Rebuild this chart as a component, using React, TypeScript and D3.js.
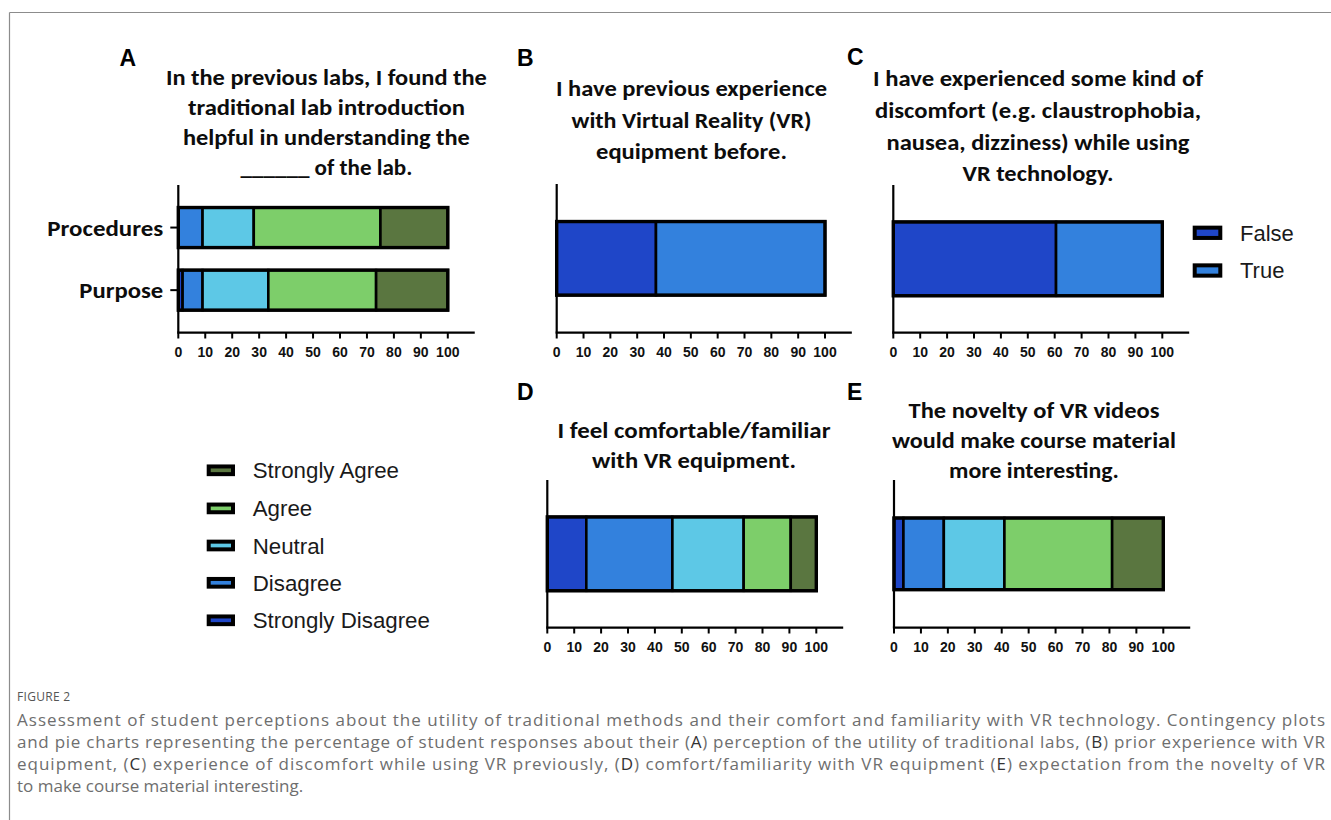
import React from "react";
import * as d3 from "d3";

// ---------- data ----------
const likertLevels = ["Strongly Disagree", "Disagree", "Neutral", "Agree", "Strongly Agree"];
const likertColors = ["#1f46c8", "#3381dd", "#5dc8e6", "#7dce6a", "#5a7640"];
const boolLevels = ["False", "True"];
const boolColors = ["#1f46c8", "#3381dd"];

const panelACategories = ["Procedures", "Purpose"];
const panelAProcedures = [0, 9, 19, 47, 25];
const panelAPurpose = [1.6, 7.4, 24.4, 40, 26.6];
const panelBValues = [37, 63];
const panelCValues = [60.5, 39.5];
const panelDValues = [14.5, 32, 26.5, 17.5, 9.5];
const panelEValues = [3.5, 15, 22.5, 40, 19];

const xTickValues = [0, 10, 20, 30, 40, 50, 60, 70, 80, 90, 100];

const titleA = ["In the previous labs, I found the", "traditional lab introduction", "helpful in understanding the", "______ of the lab."];
const titleB = ["I have previous experience", "with Virtual Reality (VR)", "equipment before."];
const titleC = ["I have experienced some kind of", "discomfort (e.g. claustrophobia,", "nausea, dizziness) while using", "VR technology."];
const titleD = ["I feel comfortable/familiar", "with VR equipment."];
const titleE = ["The novelty of VR videos", "would make course material", "more interesting."];

const captionHead = "FIGURE 2";
const captionLines = [
  "Assessment of student perceptions about the utility of traditional methods and their comfort and familiarity with VR technology. Contingency plots",
  "and pie charts representing the percentage of student responses about their (A) perception of the utility of traditional labs, (B) prior experience with VR",
  "equipment, (C) experience of discomfort while using VR previously, (D) comfort/familiarity with VR equipment (E) expectation from the novelty of VR",
  "to make course material interesting.",
];

// ---------- layout ----------
const W = 1331;
const H = 820;
const TITLE_FONT = "Carlito, Lato, 'Open Sans', sans-serif";
const AXIS_FONT = "'Liberation Sans', Arial, sans-serif";

type Layout = { x0: number; x100: number; yTop: number; yBottom: number; pIn: number; pOut: number };
const layoutA: Layout = { x0: 178.3, x100: 447.8, yTop: 185, yBottom: 332.7, pIn: 0.36, pOut: 0.36 };
const layoutB: Layout = { x0: 556.7, x100: 825, yTop: 184, yBottom: 332.7, pIn: 0, pOut: 0.51 };
const layoutC: Layout = { x0: 893.3, x100: 1162.3, yTop: 185, yBottom: 332.7, pIn: 0, pOut: 0.5 };
const layoutD: Layout = { x0: 547.3, x100: 816.3, yTop: 480, yBottom: 627.7, pIn: 0, pOut: 0.5 };
const layoutE: Layout = { x0: 894, x100: 1163.3, yTop: 480, yBottom: 627.7, pIn: 0, pOut: 0.53 };

type TitleLayout = { cx: number; baselines: number[]; widths: number[] };
const tlA: TitleLayout = { cx: 326.4, baselines: [85, 115, 145, 175], widths: [321, 277, 287, 172] };
const tlB: TitleLayout = { cx: 691.5, baselines: [96, 127.5, 159], widths: [271, 240, 191] };
const tlC: TitleLayout = { cx: 1038, baselines: [85.5, 117.5, 149.5, 181], widths: [330, 326, 303, 151] };
const tlD: TitleLayout = { cx: 694, baselines: [438, 468], widths: [273, 204] };
const tlE: TitleLayout = { cx: 1034, baselines: [417.5, 447.5, 478], widths: [251, 284, 170] };

function Title({ lines, tl }: { lines: string[]; tl: TitleLayout }) {
  return (
    <g>
      {lines.map((s, i) => (
        <text
          key={i}
          x={tl.cx}
          y={tl.baselines[i]}
          textAnchor="middle"
          fontFamily={TITLE_FONT}
          fontWeight={700}
          fontSize={22}
          fill="#0d0d0d"
          textLength={tl.widths[i]}
          lengthAdjust="spacingAndGlyphs"
        >
          {s}
        </text>
      ))}
    </g>
  );
}

function PanelLetter({ x, y, s }: { x: number; y: number; s: string }) {
  return (
    <text x={x} y={y} fontFamily={AXIS_FONT} fontWeight={700} fontSize={23} fill="#000">
      {s}
    </text>
  );
}

const categoryLabelWidths: Record<string, number> = { Procedures: 116, Purpose: 84 };

function StackedPanel({
  layout,
  categories,
  rows,
  colors,
  showCategoryLabels,
}: {
  layout: Layout;
  categories: string[];
  rows: number[][];
  colors: string[];
  showCategoryLabels: boolean;
}) {
  const k = (layout.x100 - layout.x0) / 100;
  const x = d3.scaleLinear().domain([0, 110]).range([layout.x0, layout.x0 + 110 * k]);
  const y = d3
    .scaleBand<string>()
    .domain(categories)
    .range([layout.yTop, layout.yBottom])
    .paddingInner(layout.pIn)
    .paddingOuter(layout.pOut);
  const bw = y.bandwidth();

  return (
    <g>
      {rows.map((vals, ri) => {
        const cat = categories[ri];
        const y0 = y(cat) as number;
        const cum = d3.cumsum(vals);
        const segs = vals.map((v, i) => ({ start: i === 0 ? 0 : cum[i - 1], end: cum[i], v, i }));
        return (
          <g key={cat}>
            {segs
              .filter((s) => s.v > 0)
              .map((s) => (
                <rect
                  key={s.i}
                  x={x(s.start)}
                  y={y0}
                  width={x(s.end) - x(s.start)}
                  height={bw}
                  fill={colors[s.i]}
                  stroke="#000"
                  strokeWidth={2.6}
                />
              ))}
            <rect x={x(0)} y={y0} width={x(cum[cum.length - 1]) - x(0)} height={bw} fill="none" stroke="#000" strokeWidth={3.4} />
          </g>
        );
      })}
      <line x1={x(0)} x2={x(0)} y1={layout.yTop} y2={layout.yBottom} stroke="#000" strokeWidth={2.2} />
      {showCategoryLabels &&
        categories.map((c) => {
          const cy = (y(c) as number) + bw / 2;
          return (
            <g key={c}>
              <line x1={x(0) - 8} x2={x(0)} y1={cy} y2={cy} stroke="#000" strokeWidth={2} />
              <text
                x={x(0) - 15}
                y={cy + 8}
                textAnchor="end"
                fontFamily={TITLE_FONT}
                fontWeight={700}
                fontSize={23}
                fill="#0d0d0d"
                textLength={categoryLabelWidths[c]}
                lengthAdjust="spacingAndGlyphs"
              >
                {c}
              </text>
            </g>
          );
        })}
      <line x1={x(0) - 1.1} x2={x(110)} y1={layout.yBottom} y2={layout.yBottom} stroke="#000" strokeWidth={2.2} />
      {xTickValues.map((t) => (
        <g key={t}>
          <line x1={x(t)} x2={x(t)} y1={layout.yBottom} y2={layout.yBottom + 5.8} stroke="#000" strokeWidth={2} />
          <text
            x={x(t)}
            y={layout.yBottom + 24.3}
            textAnchor="middle"
            fontFamily={AXIS_FONT}
            fontWeight={700}
            fontSize={14}
            fill="#111"
          >
            {t}
          </text>
        </g>
      ))}
    </g>
  );
}

function Legend({
  labels,
  colors,
  x,
  yCenters,
  textX,
  fontSize,
  sw,
  sh,
}: {
  labels: string[];
  colors: string[];
  x: number;
  yCenters: number[];
  textX: number;
  fontSize: number;
  sw: number;
  sh: number;
}) {
  return (
    <g>
      {labels.map((l, i) => (
        <g key={l}>
          <rect x={x + 2} y={yCenters[i] - sh / 2 + 2} width={sw - 4} height={sh - 4} fill={colors[i]} stroke="#000" strokeWidth={4} />
          <text x={textX} y={yCenters[i] + fontSize * 0.36} fontFamily={AXIS_FONT} fontSize={fontSize} fill="#1a1a1a">
            {l}
          </text>
        </g>
      ))}
    </g>
  );
}

function CaptionLine({ s, y, justify }: { s: string; y: number; justify: boolean }) {
  const parts = s.split(/(\([A-E]\))/);
  return (
    <text
      x={17}
      y={y}
      fontFamily="'Open Sans', 'Noto Sans', sans-serif"
      fontSize={17}
      fill="#6e6e6e"
      {...(justify ? { textLength: 1308, lengthAdjust: "spacing" } : {})}
    >
      {parts.map((p, i) =>
        /^\([A-E]\)$/.test(p) ? (
          <tspan key={i}>
            (<tspan fill="#333">{p.slice(1, 2)}</tspan>)
          </tspan>
        ) : (
          <tspan key={i}>{p}</tspan>
        )
      )}
    </text>
  );
}

export default function App() {
  const legendOrder = [4, 3, 2, 1, 0];
  return (
    <svg
      width={W}
      height={H}
      viewBox={`0 0 ${W} ${H}`}
      style={{ position: "absolute", left: 0, top: 0, background: "#fff" }}
    >
      <rect x={0} y={0} width={W} height={H} fill="#fff" />
      <line x1={9.5} x2={W} y1={12.5} y2={12.5} stroke="#8c8c8c" strokeWidth={1.2} />
      <line x1={9.5} x2={9.5} y1={12.5} y2={H} stroke="#8c8c8c" strokeWidth={1.2} />

      <PanelLetter x={119.5} y={65.5} s="A" />
      <PanelLetter x={517} y={66} s="B" />
      <PanelLetter x={847} y={64.5} s="C" />
      <PanelLetter x={517} y={400} s="D" />
      <PanelLetter x={847} y={400} s="E" />

      <Title lines={titleA} tl={tlA} />
      <Title lines={titleB} tl={tlB} />
      <Title lines={titleC} tl={tlC} />
      <Title lines={titleD} tl={tlD} />
      <Title lines={titleE} tl={tlE} />

      <StackedPanel layout={layoutA} categories={panelACategories} rows={[panelAProcedures, panelAPurpose]} colors={likertColors} showCategoryLabels />
      <StackedPanel layout={layoutB} categories={["B"]} rows={[panelBValues]} colors={boolColors} showCategoryLabels={false} />
      <StackedPanel layout={layoutC} categories={["C"]} rows={[panelCValues]} colors={boolColors} showCategoryLabels={false} />
      <StackedPanel layout={layoutD} categories={["D"]} rows={[panelDValues]} colors={likertColors} showCategoryLabels={false} />
      <StackedPanel layout={layoutE} categories={["E"]} rows={[panelEValues]} colors={likertColors} showCategoryLabels={false} />

      <Legend
        labels={legendOrder.map((i) => likertLevels[i])}
        colors={legendOrder.map((i) => likertColors[i])}
        x={206.7}
        yCenters={[470.3, 508.4, 545.5, 582.8, 620.3]}
        textX={252.7}
        fontSize={22.3}
        sw={28.3}
        sh={11.7}
      />
      <Legend labels={boolLevels} colors={boolColors} x={1192.7} yCenters={[232.8, 270.5]} textX={1240} fontSize={22} sw={29.6} sh={14.3} />

      <text x={17} y={700.5} fontFamily="'Open Sans', 'Noto Sans', sans-serif" fontSize={12} fill="#555" letterSpacing={0.3}>
        {captionHead}
      </text>
      {captionLines.map((s, i) => (
        <CaptionLine key={i} s={s} y={725.5 + i * 22} justify={i < 3} />
      ))}
    </svg>
  );
}
